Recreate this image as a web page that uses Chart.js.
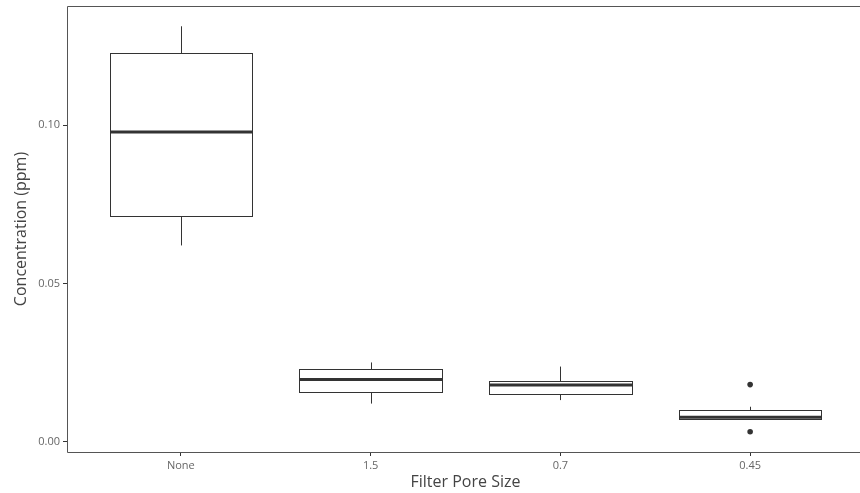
<!DOCTYPE html>
<html>
<head>
<meta charset="utf-8">
<script src="https://cdn.jsdelivr.net/npm/chart.js@4/dist/chart.umd.min.js"></script>
<style>
  html, body { margin: 0; padding: 0; background: #fff; overflow: hidden; width: 860px; height: 493px; }
  #wrap { width: 860px; height: 493px; overflow: hidden; position: relative; }
  #c { position: absolute; left: 0; top: 0; }
</style>
</head>
<body>
<div id="wrap"><canvas id="c" width="880" height="493"></canvas></div>
<script>
// ---- data ----
const categories  = ['None', '1.5', '0.7', '0.45'];
const whiskerLow  = [0.0620, 0.0120, 0.0131, 0.0071];
const q1          = [0.0712, 0.0156, 0.0150, 0.0071];
const median      = [0.0979, 0.0196, 0.0179, 0.0077];
const q3          = [0.1229, 0.0228, 0.0192, 0.0099];
const whiskerHigh = [0.1313, 0.0250, 0.0237, 0.0110];
const outlierCat  = [3, 3];
const outlierVal  = [0.0180, 0.0031];
const yTicks      = [0.00, 0.05, 0.10];
const yTickLabels = ['0.00', '0.05', '0.10'];

const allVals = whiskerLow.concat(whiskerHigh, outlierVal);
const lo = Math.min(...allVals), hi = Math.max(...allVals);
const yMin = lo - 0.05 * (hi - lo), yMax = hi + 0.05 * (hi - lo);

const boxPlugin = {
  id: 'boxes',
  beforeDatasetsDraw(chart) {
    const {ctx, chartArea: a, scales: {x, y}} = chart;
    ctx.save();
    ctx.beginPath();
    ctx.rect(a.left, a.top, a.right - a.left, a.bottom - a.top);
    ctx.clip();
    categories.forEach((c, i) => {
      const cx = Math.round(x.getPixelForValue(i)) + 0.5;
      const xl = Math.round(x.getPixelForValue(i - 0.375)) + 0.5;
      const xr = Math.round(x.getPixelForValue(i + 0.375)) + 0.5;
      const yq1 = Math.round(y.getPixelForValue(q1[i])) + 0.5;
      const yq3 = Math.round(y.getPixelForValue(q3[i])) + 0.5;
      const ylo = y.getPixelForValue(whiskerLow[i]);
      const yhi = y.getPixelForValue(whiskerHigh[i]);
      const ym = y.getPixelForValue(median[i]);
      ctx.strokeStyle = '#333333';
      ctx.lineWidth = 1;
      ctx.beginPath();
      ctx.moveTo(cx, yq3); ctx.lineTo(cx, yhi);
      ctx.moveTo(cx, yq1); ctx.lineTo(cx, ylo);
      ctx.stroke();
      ctx.fillStyle = '#ffffff';
      ctx.fillRect(xl, yq3, xr - xl, yq1 - yq3);
      ctx.strokeRect(xl, yq3, xr - xl, yq1 - yq3);
      ctx.lineWidth = 3;
      ctx.beginPath();
      ctx.moveTo(xl, ym); ctx.lineTo(xr, ym);
      ctx.stroke();
    });
    ctx.restore();
  },
  afterDraw(chart) {
    const {ctx, chartArea: a} = chart;
    const l = Math.round(a.left) + 0.5, t = Math.round(a.top) + 0.5;
    const r = Math.round(a.right) + 0.5, b = Math.round(a.bottom) + 0.5;
    ctx.save();
    ctx.strokeStyle = '#555555';
    ctx.lineWidth = 1;
    ctx.beginPath();
    ctx.moveTo(r, t); ctx.lineTo(l, t); ctx.lineTo(l, b); ctx.lineTo(r, b); ctx.lineTo(r, t);
    ctx.stroke();
    ctx.restore();
  }
};

new Chart(document.getElementById('c'), {
  type: 'scatter',
  data: {
    datasets: [{
      label: 'outliers',
      data: outlierCat.map((c, k) => ({x: c, y: outlierVal[k]})),
      backgroundColor: '#333333',
      borderColor: '#333333',
      pointRadius: 2.8,
      borderWidth: 0
    }]
  },
  options: {
    responsive: false,
    animation: false,
    layout: { padding: { top: 6, right: 16, bottom: 0, left: 0 } },
    plugins: { legend: { display: false }, tooltip: { enabled: false } },
    scales: {
      x: {
        type: 'linear',
        min: -0.6, max: categories.length - 1 + 0.6,
        afterBuildTicks: s => { s.ticks = categories.map((c, i) => ({value: i})); },
        afterFit: s => { s.height = 41; s.paddingLeft = 0; s.paddingRight = 0; },
        ticks: {
          callback: v => categories[v],
          font: { family: 'Open Sans', size: 11 },
          color: '#666666',
          padding: 3,
          maxRotation: 0,
          autoSkip: false
        },
        grid: { display: true, drawOnChartArea: false, drawTicks: true, tickLength: 4, color: '#333333' },
        border: { display: false },
        title: {
          display: true, text: 'Filter Pore Size',
          font: { family: 'Open Sans', size: 16 },
          color: '#444444',
          padding: { top: 0, bottom: 1 }
        }
      },
      y: {
        type: 'linear',
        min: yMin, max: yMax,
        afterBuildTicks: s => { s.ticks = yTicks.map(v => ({value: v})); },
        afterFit: s => { s.width = 67; s.paddingTop = 0; s.paddingBottom = 0; },
        ticks: {
          callback: (v) => yTickLabels[yTicks.indexOf(v)] ?? '',
          font: { family: 'Open Sans', size: 11 },
          color: '#666666',
          padding: 3
        },
        grid: { display: true, drawOnChartArea: false, drawTicks: true, tickLength: 4, color: '#333333' },
        border: { display: false },
        title: {
          display: true, text: 'Concentration (ppm)',
          font: { family: 'Open Sans', size: 16 },
          color: '#444444',
          padding: { top: 12, bottom: 0 }
        }
      }
    }
  },
  plugins: [boxPlugin]
});
</script>
</body>
</html>
